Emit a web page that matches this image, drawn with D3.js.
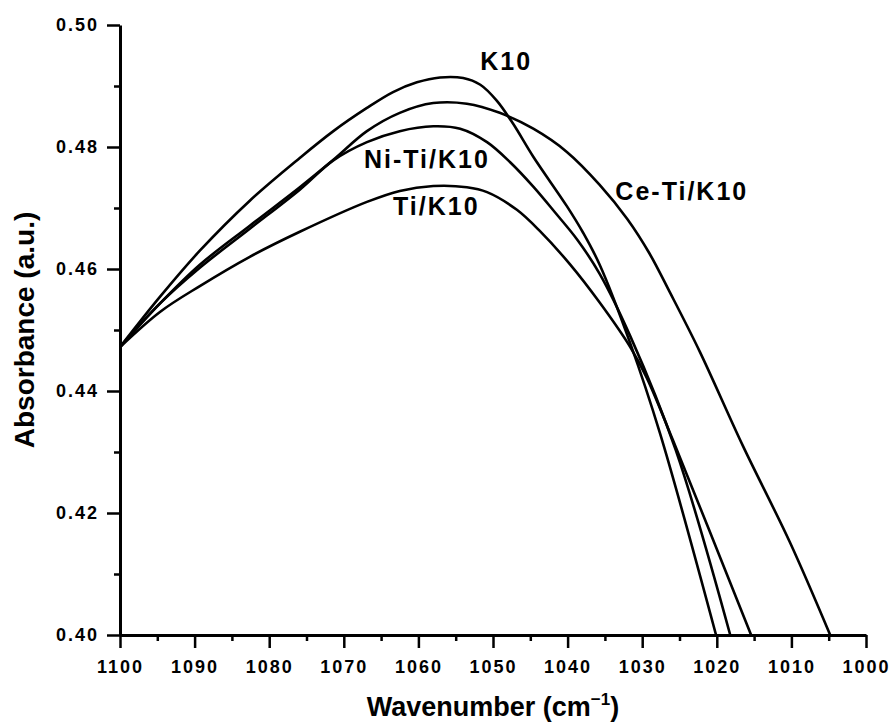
<!DOCTYPE html>
<html>
<head>
<meta charset="utf-8">
<script src="https://cdn.jsdelivr.net/npm/d3@7"></script>
<style>
  body { margin: 0; background: #fff; }
  text { font-family: "Liberation Sans", Arial, sans-serif; font-weight: bold; fill: #000; }
</style>
</head>
<body>
<div id="chart"></div>
<script>
// wavenumber (cm-1) / absorbance pairs
var k10 = [
  [1100, 0.4472], [1094.6, 0.4555], [1089.3, 0.4630], [1082.6, 0.4712], [1075.9, 0.4782],
  [1071.4, 0.4826], [1066.9, 0.4864], [1063.4, 0.4890], [1060.2, 0.4906], [1057.1, 0.4914],
  [1054.0, 0.4913], [1051.7, 0.4902], [1049.5, 0.4876], [1047.3, 0.4838], [1044.6, 0.4784],
  [1040.1, 0.4703], [1037.9, 0.4659], [1035.7, 0.4607], [1031.6, 0.4478], [1027.6, 0.4330],
  [1020.1, 0.4000]
];
var ceTiK10 = [
  [1100, 0.4472], [1094.6, 0.4544], [1089.3, 0.4607], [1082.6, 0.4671], [1075.9, 0.4734],
  [1071.4, 0.4779], [1066.9, 0.4826], [1062.5, 0.4856], [1058.0, 0.4872], [1053.5, 0.4871],
  [1049.1, 0.4856], [1044.6, 0.4830], [1040.1, 0.4792], [1035.7, 0.4738], [1032.0, 0.4682],
  [1029.0, 0.4625], [1026.3, 0.4562], [1022.3, 0.4465], [1016.5, 0.4310], [1010.2, 0.4152],
  [1004.8, 0.4000]
];
var niTiK10 = [
  [1100, 0.4472], [1094.6, 0.4544], [1089.3, 0.4602], [1082.6, 0.4666], [1075.9, 0.4730],
  [1071.4, 0.4778], [1066.9, 0.4808], [1062.5, 0.4826], [1058.0, 0.4834], [1054.4, 0.4830],
  [1050.8, 0.4808], [1047.7, 0.4775], [1044.6, 0.4735], [1041.7, 0.4693], [1038.7, 0.4648],
  [1035.7, 0.4592], [1031.6, 0.4490], [1025.5, 0.4303], [1018.2, 0.4000]
];
var tiK10 = [
  [1100, 0.4472], [1094.6, 0.4530], [1089.3, 0.4572], [1082.6, 0.4620], [1075.9, 0.4661],
  [1066.9, 0.4710], [1062.5, 0.4728], [1058.0, 0.4736], [1053.5, 0.4734], [1050.8, 0.4726],
  [1046.8, 0.4697], [1043.7, 0.4662], [1039.7, 0.4608], [1035.7, 0.4545], [1031.6, 0.4472],
  [1029.4, 0.4422], [1025.9, 0.4320], [1015.4, 0.4000]
];

var xTicks = [1100, 1090, 1080, 1070, 1060, 1050, 1040, 1030, 1020, 1010, 1000];
var xMinorTicks = [1095, 1085, 1075, 1065, 1055, 1045, 1035, 1025, 1015, 1005];
var yTicks = [0.40, 0.42, 0.44, 0.46, 0.48, 0.50];
var yMinorTicks = [0.41, 0.43, 0.45, 0.47, 0.49];

var labels = [
  {name: "K10", w: 1051.7, v: 0.4926},
  {name: "Ni-Ti/K10", w: 1067.3, v: 0.4766},
  {name: "Ti/K10", w: 1063.4, v: 0.4689},
  {name: "Ce-Ti/K10", w: 1033.6, v: 0.4713}
];

var width = 891, height = 726;
var margin = {top: 25, right: 25, bottom: 91, left: 120};

var svg = d3.select("#chart")
    .append("svg")
    .attr("width", width)
    .attr("height", height);

var x = d3.scaleLinear()
    .domain([1100, 1000])
    .range([margin.left, 866]);

var y = d3.scaleLinear()
    .domain([0.40, 0.50])
    .range([635, margin.top]);

// x axis
svg.append("g")
    .attr("transform", "translate(0," + y(0.40) + ")")
    .call(d3.axisBottom(x).tickValues(xTicks).tickSize(13).tickSizeOuter(0).tickPadding(12)
        .tickFormat(d3.format("d")));
svg.append("g")
    .attr("transform", "translate(0," + y(0.40) + ")")
    .call(d3.axisBottom(x).tickValues(xMinorTicks).tickSize(6).tickSizeOuter(0).tickFormat(""))
    .select(".domain").remove();

// y axis
svg.append("g")
    .attr("transform", "translate(" + x(1100) + ",0)")
    .call(d3.axisLeft(y).tickValues(yTicks).tickSize(13).tickSizeOuter(0).tickPadding(8)
        .tickFormat(d3.format(".2f")));
svg.append("g")
    .attr("transform", "translate(" + x(1100) + ",0)")
    .call(d3.axisLeft(y).tickValues(yMinorTicks).tickSize(6).tickSizeOuter(0).tickFormat(""))
    .select(".domain").remove();

svg.selectAll(".domain").attr("stroke", "#000").attr("stroke-width", 3);
svg.selectAll(".tick line").attr("stroke", "#000").attr("stroke-width", 2.5);
svg.selectAll(".tick text")
    .style("font-size", "18px")
    .style("letter-spacing", "2px")
    .attr("fill", "#000");

// curves
var line = d3.line()
    .x(function(d) { return x(d[0]); })
    .y(function(d) { return y(d[1]); })
    .curve(d3.curveCatmullRom.alpha(0.5));

[k10, ceTiK10, niTiK10, tiK10].forEach(function(series) {
    svg.append("path")
        .datum(series)
        .attr("fill", "none")
        .attr("stroke", "#000")
        .attr("stroke-width", 2.6)
        .attr("stroke-linejoin", "round")
        .attr("d", line);
});

// curve labels
svg.selectAll(".curve-label")
    .data(labels)
    .enter()
    .append("text")
    .attr("class", "curve-label")
    .attr("x", function(d) { return x(d.w); })
    .attr("y", function(d) { return y(d.v); })
    .style("font-size", "25px")
    .style("letter-spacing", "2px")
    .text(function(d) { return d.name; });

// axis titles
svg.append("text")
    .attr("transform", "translate(34," + ((y(0.40) + y(0.50)) / 2) + ") rotate(-90)")
    .attr("text-anchor", "middle")
    .style("font-size", "28px")
    .text("Absorbance (a.u.)");

var xTitle = svg.append("text")
    .attr("x", (x(1100) + x(1000)) / 2)
    .attr("y", 716)
    .attr("text-anchor", "middle")
    .style("font-size", "27px");
xTitle.append("tspan").text("Wavenumber (cm");
xTitle.append("tspan").attr("dy", -11).style("font-size", "17px").text("−1");
xTitle.append("tspan").attr("dy", 11).text(")");
</script>
</body>
</html>
